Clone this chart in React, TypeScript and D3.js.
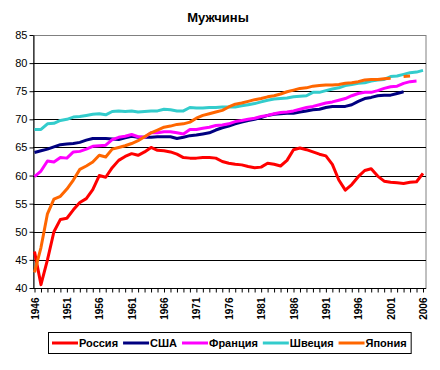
import * as d3 from "d3";
import { useEffect, useRef } from "react";

// years on the category axis
const years = d3.range(1946, 2007);
const xTickLabels = [1946, 1951, 1956, 1961, 1966, 1971, 1976, 1981, 1986, 1991, 1996, 2001, 2006];
const yTicks = [40, 45, 50, 55, 60, 65, 70, 75, 80, 85];

const seriesNames = ["Россия", "США", "Франция", "Швеция", "Япония"];
const seriesColors = ["#FF0000", "#000080", "#FF00FF", "#33CCCC", "#FF6600"];

// life expectancy, men, 1946..2006 (null = no data)
const russia = [
  46.5, 40.6, 45.0, 50.0, 52.2, 52.4, 53.9, 55.2, 55.9, 57.5,
  60.0, 59.7, 61.4, 62.7, 63.4, 63.9, 63.6, 64.2, 65.0, 64.5,
  64.4, 64.2, 63.8, 63.2, 63.1, 63.1, 63.2, 63.2, 63.1, 62.5,
  62.2, 62.0, 61.9, 61.6, 61.4, 61.5, 62.2, 62.0, 61.7, 62.7,
  64.6, 64.9, 64.6, 64.2, 63.8, 63.5, 62.0, 59.2, 57.4, 58.4,
  59.8, 60.9, 61.2, 59.9, 59.0, 58.8, 58.7, 58.6, 58.8, 58.9,
  60.4,
];
const usa = [
  64.1, 64.4, 64.7, 65.1, 65.5, 65.6, 65.7, 65.9, 66.3, 66.6,
  66.6, 66.6, 66.5, 66.4, 66.7, 67.0, 66.8, 66.8, 66.8, 66.9,
  66.9, 66.9, 66.6, 66.8, 67.1, 67.2, 67.4, 67.6, 68.1, 68.5,
  68.8, 69.2, 69.5, 69.8, 70.0, 70.3, 70.7, 70.9, 71.0, 71.1,
  71.1, 71.3, 71.5, 71.7, 71.8, 72.1, 72.3, 72.3, 72.3, 72.6,
  73.2, 73.7, 73.9, 74.2, 74.3, 74.3, 74.6, 74.9, null, null,
  null,
];
const france = [
  59.8, 60.8, 62.6, 62.4, 63.2, 63.1, 64.2, 64.3, 64.7, 65.2,
  65.3, 65.4, 66.4, 66.8, 67.0, 67.3, 66.9, 66.8, 67.6, 67.6,
  67.8, 67.8, 67.6, 67.4, 68.2, 68.2, 68.4, 68.6, 68.9, 69.0,
  69.2, 69.6, 69.8, 70.0, 70.2, 70.5, 70.7, 71.0, 71.2, 71.3,
  71.5, 71.8, 72.1, 72.3, 72.6, 72.9, 73.1, 73.4, 73.7, 74.2,
  74.6, 74.8, 74.8, 75.1, 75.5, 75.8, 75.9, 76.4, 76.7, 76.8,
  null,
];
const sweden = [
  68.2, 68.2, 69.2, 69.3, 69.8, 70.0, 70.4, 70.5, 70.7, 70.9,
  71.0, 70.8, 71.4, 71.5, 71.4, 71.5, 71.3, 71.4, 71.5, 71.5,
  71.8, 71.7, 71.5, 71.5, 72.1, 72.0, 72.0, 72.1, 72.1, 72.2,
  72.2, 72.2, 72.4, 72.6, 72.8, 73.1, 73.4, 73.6, 73.7, 73.8,
  74.0, 74.1, 74.2, 74.8, 74.8, 75.1, 75.4, 75.6, 76.0, 76.2,
  76.4, 76.5, 76.8, 77.0, 77.1, 77.6, 77.7, 78.0, 78.3, 78.4,
  78.7,
];
const japan = [
  42.8, 47.2, 53.2, 55.8, 56.3, 57.6, 59.2, 61.1, 61.7, 62.4,
  63.6, 63.3, 64.7, 65.0, 65.3, 65.7, 66.2, 66.9, 67.6, 68.1,
  68.6, 68.8, 69.1, 69.2, 69.5, 70.2, 70.7, 71.0, 71.3, 71.6,
  72.2, 72.7, 72.9, 73.2, 73.5, 73.7, 74.0, 74.2, 74.5, 74.9,
  75.2, 75.5, 75.6, 75.9, 76.0, 76.1, 76.1, 76.2, 76.4, 76.5,
  76.7, 77.0, 77.1, 77.1, 77.2, 77.3, null, 77.6, 77.7, null,
  null,
];
const seriesValues = [russia, usa, france, sweden, japan];

const FONT = "'Liberation Sans', Arial, sans-serif";

export const App = () => {
  const ref = useRef<SVGSVGElement>(null);

  useEffect(() => {
    const svg = d3.select(ref.current);
    svg.selectAll("*").remove(); // reset

    const left = 33, right = 426, top = 35, bottom = 288;
    const x = d3.scaleLinear().domain([1946, 2006]).range([34.5, 423]);
    const y = d3.scaleLinear().domain([40, 85]).range([bottom, top]);

    svg.append("rect").attr("width", 440).attr("height", 370).attr("fill", "#fff");

    svg
      .append("text")
      .attr("x", 218)
      .attr("y", 22)
      .attr("text-anchor", "middle")
      .style("font", `bold 13px ${FONT}`)
      .text("Мужчины");

    // plot area border
    svg
      .append("rect")
      .attr("x", left + 0.5)
      .attr("y", top + 0.5)
      .attr("width", right - left - 0.5)
      .attr("height", bottom - top)
      .attr("fill", "none")
      .attr("stroke", "#808080");

    // gridlines
    svg
      .append("g")
      .selectAll("line")
      .data(yTicks.filter((t) => t > 40 && t < 85))
      .join("line")
      .attr("x1", left)
      .attr("x2", right)
      .attr("y1", (d) => Math.round(y(d)) + 0.5)
      .attr("y2", (d) => Math.round(y(d)) + 0.5)
      .attr("stroke", "#000");

    // y axis
    const yAxis = svg
      .append("g")
      .attr("transform", `translate(${left + 0.5},0)`)
      .call(d3.axisLeft(y).tickValues(yTicks).tickSize(4).tickPadding(2).tickSizeOuter(0));
    yAxis.select(".domain").attr("stroke", "#000");
    yAxis.selectAll("text").style("font", `11px ${FONT}`).attr("fill", "#000");

    // x axis
    const xAxis = svg
      .append("g")
      .attr("transform", `translate(0,${bottom + 0.5})`)
      .call(
        d3
          .axisBottom(x)
          .tickValues(years)
          .tickSize(4)
          .tickSizeOuter(0)
          .tickFormat((d) => (xTickLabels.includes(+d) ? String(d) : ""))
      );
    xAxis.select(".domain").attr("d", `M${left},0H${right}`).attr("stroke", "#000");
    xAxis
      .selectAll("text")
      .attr("transform", "rotate(-90)")
      .attr("text-anchor", "end")
      .attr("x", -9)
      .attr("y", 0)
      .attr("dy", "0.35em")
      .style("font", `bold 10px ${FONT}`)
      .attr("fill", "#000");

    // series
    const line = d3
      .line<number | null>()
      .defined((d) => d != null)
      .x((_, i) => x(years[i]))
      .y((d) => y(d as number));

    seriesValues.forEach((vals, i) => {
      svg
        .append("path")
        .datum(vals)
        .attr("d", line)
        .attr("fill", "none")
        .attr("stroke", seriesColors[i])
        .attr("stroke-width", 3)
        .attr("stroke-linejoin", "round");
    });

    // legend
    const lg = svg.append("g");
    const box = lg.append("rect").attr("fill", "#fff").attr("stroke", "#000");
    let cx = 0;
    seriesNames.forEach((name, i) => {
      lg.append("line")
        .attr("x1", cx)
        .attr("x2", cx + 26)
        .attr("y1", 0)
        .attr("y2", 0)
        .attr("stroke", seriesColors[i])
        .attr("stroke-width", 3);
      const t = lg
        .append("text")
        .attr("x", cx + 27)
        .attr("y", 0)
        .attr("dy", "0.36em")
        .style("font", `bold 11px ${FONT}`)
        .text(name);
      const w = (t.node() as SVGTextElement).getComputedTextLength();
      cx += 27 + w + (i < seriesNames.length - 1 ? 5 : 0);
    });
    const pad = 3;
    box
      .attr("x", -pad - 0.5)
      .attr("y", -10.5)
      .attr("width", cx + pad * 2 + 2)
      .attr("height", 21);
    lg.attr("transform", `translate(${Math.round(229 - cx / 2)},343)`);
  }, []);

  return (
    <svg
      ref={ref}
      width={440}
      height={370}
      style={{ position: "absolute", left: 0, top: 0 }}
    ></svg>
  );
};

export default App;
